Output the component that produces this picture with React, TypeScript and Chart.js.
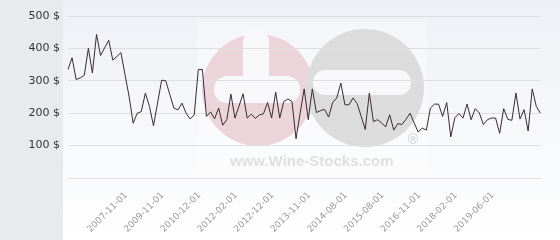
import React, { useEffect, useRef } from 'react';
import { Chart, registerables } from 'chart.js';

Chart.register(...registerables);

// Price per bottle (USD), one value per auction date
const prices = [
  335, 371, 304, 309, 317, 400, 324, 443, 378, 402,
  425, 364, 375, 387, 319, 252, 169, 200, 205, 262,
  221, 161, 232, 302, 300, 258, 216, 210, 231, 200,
  182, 195, 335, 335, 190, 204, 183, 216, 163, 180,
  259, 185, 222, 260, 185, 197, 184, 195, 198, 233,
  185, 265, 185, 236, 244, 236, 121, 200, 275, 180,
  275, 202, 208, 212, 188, 233, 247, 293, 226, 226,
  247, 230, 190, 150, 262, 174, 180, 170, 158, 195,
  148, 168, 165, 181, 200, 170, 142, 154, 148, 216,
  228, 228, 190, 233, 127, 186, 199, 185, 228, 180,
  214, 201, 165, 180, 185, 185, 138, 214, 181, 178,
  262, 182, 211, 145, 275, 221, 200,
];

// Dates shown on the x axis and the data index each belongs to
const tickDates = [
  '2007-11-01', '2009-11-01', '2010-12-01', '2012-02-01', '2012-12-01',
  '2013-11-01', '2014-08-01', '2015-08-01', '2016-11-01', '2018-02-01',
  '2019-06-01',
];
const tickIndices = [15, 24, 33, 42, 51, 60, 69, 78, 87, 96, 105];

const yMin = 0;
const yMax = 500;
const yStep = 100;

const categories = prices.map((_, i) => {
  const k = tickIndices.indexOf(i);
  return k >= 0 ? tickDates[k] : '';
});

const roundRect = (ctx: CanvasRenderingContext2D, x: number, y: number, w: number, h: number, r: number) => {
  ctx.beginPath();
  ctx.moveTo(x + r, y);
  ctx.lineTo(x + w - r, y);
  ctx.arc(x + w - r, y + r, r, -Math.PI / 2, 0);
  ctx.lineTo(x + w, y + h - r);
  ctx.arc(x + w - r, y + h - r, r, 0, Math.PI / 2);
  ctx.lineTo(x + r, y + h);
  ctx.arc(x + r, y + h - r, r, Math.PI / 2, Math.PI);
  ctx.lineTo(x, y + r);
  ctx.arc(x + r, y + r, r, Math.PI, Math.PI * 1.5);
  ctx.closePath();
  ctx.fill();
};

const backgroundPlugin = {
  id: 'wsBackground',
  beforeDraw(chart: any) {
    const ctx: CanvasRenderingContext2D = chart.ctx;
    const W = chart.width;
    const H = chart.height;
    ctx.save();
    const g = ctx.createLinearGradient(0, 0, 0, H);
    g.addColorStop(0, '#eef0f5');
    g.addColorStop(1, '#ffffff');
    ctx.fillStyle = g;
    ctx.fillRect(0, 0, W, H);
    ctx.fillStyle = '#e7ebee';
    ctx.fillRect(0, 0, 63, H);

    // watermark
    ctx.fillStyle = 'rgba(255,255,255,0.35)';
    ctx.fillRect(197, 22, 230, 155);
    ctx.fillStyle = '#ebd5da';
    ctx.beginPath();
    ctx.arc(258, 90, 56, 0, Math.PI * 2);
    ctx.fill();
    ctx.fillStyle = '#dcdcdc';
    ctx.beginPath();
    ctx.arc(365, 88, 59, 0, Math.PI * 2);
    ctx.fill();
    ctx.fillStyle = '#f8f8fa';
    roundRect(ctx, 214, 76, 86, 27, 13);
    roundRect(ctx, 243, 30, 26, 60, 12);
    roundRect(ctx, 313, 70, 98, 25, 12);
    ctx.fillStyle = '#e0e0e0';
    ctx.font = 'bold 15px "Liberation Sans", Arial, sans-serif';
    ctx.textBaseline = 'alphabetic';
    ctx.textAlign = 'left';
    ctx.fillText('www.Wine-Stocks.com', 230, 166);
    ctx.font = '14px "DejaVu Sans", sans-serif';
    ctx.fillStyle = '#d2d2d2';
    ctx.fillText('®', 406, 144);
    ctx.restore();
  },
};

export default function App() {
  const ref = useRef<HTMLCanvasElement>(null);
  useEffect(() => {
    document.body.style.margin = '0';
    if (!ref.current) return;
    const chart = new Chart(ref.current, {
      type: 'line',
      data: {
        labels: categories,
        datasets: [
          {
            data: prices,
            borderColor: '#3a2a31',
            borderWidth: 1,
            pointRadius: 0,
            fill: false,
            tension: 0,
          },
        ],
      },
      options: {
        animation: false,
        responsive: false,
        layout: { padding: { top: 16, right: 6, left: 0, bottom: 0 } },
        plugins: { legend: { display: false }, tooltip: { enabled: false } },
        scales: {
          x: {
            grid: { display: false, drawTicks: false },
            border: { display: true, color: '#dedede', width: 1 },
            ticks: {
              autoSkip: false,
              minRotation: 45,
              maxRotation: 45,
              padding: 12,
              labelOffset: -3,
              color: '#9a9a9a',
              font: { family: 'DejaVu Sans', size: 9 },
            },
            afterFit: (s: any) => {
              s.height = 62;
            },
          },
          y: {
            min: yMin,
            max: yMax,
            ticks: {
              stepSize: yStep,
              padding: 8,
              color: '#333333',
              font: { family: 'DejaVu Sans', size: 11 },
              callback: (v: any) => (v === 0 ? '' : v + ' $'),
            },
            grid: { color: '#dedede', drawTicks: false },
            border: { display: false },
            afterFit: (s: any) => {
              s.width = 68;
            },
          },
        },
      },
      plugins: [backgroundPlugin],
    } as any);
    return () => chart.destroy();
  }, []);
  return <canvas ref={ref} width={560} height={240} style={{ display: 'block' }} />;
}
